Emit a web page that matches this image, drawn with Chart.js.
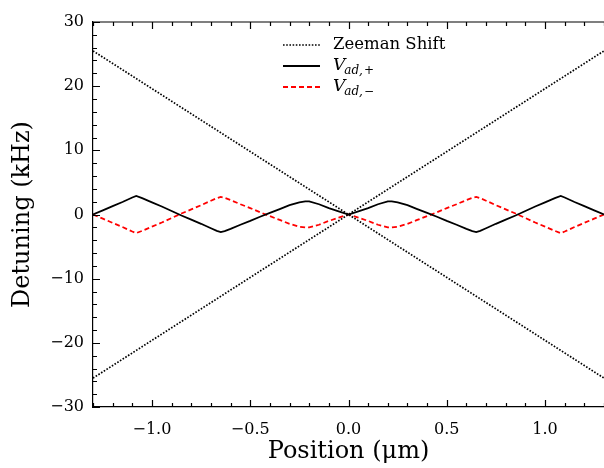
<!DOCTYPE html>
<html>
<head>
<meta charset="utf-8">
<script src="https://cdn.jsdelivr.net/npm/chart.js@4"></script>
<style>
  html, body { margin:0; padding:0; background:#fff; }
  #wrap { width:604px; height:468px; }
</style>
</head>
<body>
<div id="wrap"><canvas id="chart" width="604" height="468"></canvas></div>
<script>
// values
const xPos = [-1.30,-1.25,-1.20,-1.15,-1.10,-1.08,-1.05,-1.00,-0.95,-0.90,
              -0.85,-0.80,-0.75,-0.70,-0.67,-0.65,-0.63,-0.60,-0.55,-0.50,
              -0.45,-0.40,-0.35,-0.30,-0.25,-0.22,-0.20,-0.15,-0.10,-0.05,
               0.00,
               0.05, 0.10, 0.15, 0.20, 0.22, 0.25, 0.30, 0.35, 0.40, 0.45,
               0.50, 0.55, 0.60, 0.63, 0.65, 0.67, 0.70, 0.75, 0.80, 0.85,
               0.90, 0.95, 1.00, 1.05, 1.08, 1.10, 1.15, 1.20, 1.25, 1.30];
const vPlus = [0,0.65,1.3,1.95,2.65,2.9,2.55,1.9,1.25,0.55,
               -0.15,-0.8,-1.45,-2.15,-2.55,-2.75,-2.6,-2.25,-1.6,-1.0,
               -0.35,0.25,0.85,1.45,1.9,2.05,2.05,1.6,1.0,0.5,
               0,
               0.5,1.0,1.6,2.05,2.05,1.9,1.45,0.85,0.25,-0.35,
               -1.0,-1.6,-2.25,-2.6,-2.75,-2.55,-2.15,-1.45,-0.8,-0.15,
               0.55,1.25,1.9,2.55,2.9,2.65,1.95,1.3,0.65,0];
const vMinus = [0,-0.65,-1.3,-1.95,-2.65,-2.9,-2.55,-1.9,-1.25,-0.55,
                0.15,0.8,1.45,2.15,2.55,2.75,2.6,2.25,1.6,1.0,
                0.35,-0.25,-0.85,-1.45,-1.9,-2.0,-2.0,-1.6,-1.0,-0.5,
                0,
                -0.5,-1.0,-1.6,-2.0,-2.0,-1.9,-1.45,-0.85,-0.25,0.35,
                1.0,1.6,2.25,2.6,2.75,2.55,2.15,1.45,0.8,0.15,
                -0.55,-1.25,-1.9,-2.55,-2.9,-2.65,-1.95,-1.3,-0.65,0];
const zeemanX = [-1.3, 1.3];
const zeemanDown = [25.5, -25.5];
const zeemanUp = [-25.5, 25.5];

const xTicks = [-1.0, -0.5, 0.0, 0.5, 1.0];
const yTicks = [-30, -20, -10, 0, 10, 20, 30];

const serif = "'DejaVu Serif', 'Liberation Serif', serif";

function pts(xs, ys) {
    return xs.map(function(x, i) { return {x:x, y:ys[i]}; });
}
function minus(s) { return s.replace('-', '\u2212'); }

// ticks pointing inward + top spine, like the original plot
const frameTicks = {
    id:'frameTicks',
    afterDraw(chart) {
        const ctx = chart.ctx, a = chart.chartArea;
        const xs = chart.scales.x, ys = chart.scales.y;
        ctx.save();
        ctx.strokeStyle = '#000';
        ctx.lineWidth = 1.2;
        ctx.beginPath();
        ctx.moveTo(a.left, a.top); ctx.lineTo(a.right, a.top);
        for (let i = -13; i <= 13; i++) {
            const v = i / 10;
            const px = Math.round(xs.getPixelForValue(v)) + 0.5;
            const len = (i % 5 === 0) ? 7 : 4;
            ctx.moveTo(px, a.bottom); ctx.lineTo(px, a.bottom - len);
            ctx.moveTo(px, a.top); ctx.lineTo(px, a.top + len);
        }
        for (let v = -30; v <= 30; v += 2) {
            const py = Math.round(ys.getPixelForValue(v)) + 0.5;
            const len = (v % 10 === 0) ? 7 : 4;
            ctx.moveTo(a.left, py); ctx.lineTo(a.left + len, py);
        }
        ctx.stroke();
        ctx.restore();
    }
};

// legend in the top middle of the plot, with the math labels
const mathLegend = {
    id:'mathLegend',
    afterDraw(chart) {
        const ctx = chart.ctx;
        const rows = chart.data.datasets.filter(function(d) { return d.inLegend; });
        const x0 = 283, x1 = 320, tx = 333;
        let y = 45;
        ctx.save();
        rows.forEach(function(d) {
            ctx.strokeStyle = d.borderColor;
            ctx.lineWidth = d.borderWidth;
            ctx.setLineDash(d.borderDash || []);
            ctx.beginPath();
            ctx.moveTo(x0, y); ctx.lineTo(x1, y);
            ctx.stroke();
            ctx.setLineDash([]);
            ctx.fillStyle = '#000';
            ctx.textBaseline = 'middle';
            if (d.label === 'Zeeman Shift') {
                ctx.font = '16.5px ' + serif;
                ctx.fillText(d.label, tx, y);
            } else {
                ctx.font = 'italic 17px ' + serif;
                ctx.fillText('V', tx, y);
                let w = ctx.measureText('V').width;
                ctx.font = 'italic 12px ' + serif;
                ctx.fillText('ad,', tx + w - 1, y + 5);
                let w2 = ctx.measureText('ad,').width;
                ctx.font = '12px ' + serif;
                ctx.fillText(d.label === 'plus' ? '+' : '\u2212', tx + w + w2, y + 5);
            }
            y += 21;
        });
        ctx.restore();
    }
};

new Chart(document.getElementById('chart'), {
    type:'scatter',
    data:{
        datasets:[
            {label:'Zeeman Shift', inLegend:true, data:pts(zeemanX, zeemanDown), showLine:true,
             borderColor:'#000', borderWidth:1.7, borderDash:[1.6,1.6], pointRadius:0},
            {label:'Zeeman Shift 2', data:pts(zeemanX, zeemanUp), showLine:true,
             borderColor:'#000', borderWidth:1.7, borderDash:[1.6,1.6], pointRadius:0},
            {label:'plus', inLegend:true, data:pts(xPos, vPlus), showLine:true,
             borderColor:'#000', borderWidth:1.8, pointRadius:0},
            {label:'minus', inLegend:true, data:pts(xPos, vMinus), showLine:true,
             borderColor:'#ff0000', borderWidth:1.8, borderDash:[5,3], pointRadius:0}
        ]
    },
    options:{
        responsive:false,
        animation:false,
        layout:{ padding:{ top:22, right:0, left:0, bottom:0 } },
        plugins:{ legend:{ display:false }, tooltip:{ enabled:false } },
        scales:{
            x:{
                type:'linear', min:-1.3, max:1.3,
                afterBuildTicks(s) { s.ticks = xTicks.map(function(v) { return {value:v}; }); },
                afterFit(s) { s.height = 61; },
                grid:{ display:false, drawTicks:false },
                border:{ display:true, color:'#000', width:1.2 },
                ticks:{ color:'#000', padding:15, maxRotation:0, font:{ family:serif, size:16, lineHeight:1 },
                        callback(v) { return minus(Number(v).toFixed(1)); } },
                title:{ display:true, text:'Position (\u03bcm)', color:'#000', padding:{top:0, bottom:4},
                        font:{ family:serif, size:24, lineHeight:1 } }
            },
            y:{
                type:'linear', min:-30, max:30,
                afterBuildTicks(s) { s.ticks = yTicks.map(function(v) { return {value:v}; }); },
                afterFit(s) { s.width = 93; },
                grid:{ display:false, drawTicks:false },
                border:{ display:true, color:'#000', width:1.2 },
                ticks:{ color:'#000', padding:9, font:{ family:serif, size:16 },
                        callback(v) { return minus(String(v)); } },
                title:{ display:true, text:'Detuning (kHz)', color:'#000', padding:{top:11, bottom:0},
                        font:{ family:serif, size:24, lineHeight:1 } }
            }
        }
    },
    plugins:[frameTicks, mathLegend]
});
</script>
</body>
</html>
